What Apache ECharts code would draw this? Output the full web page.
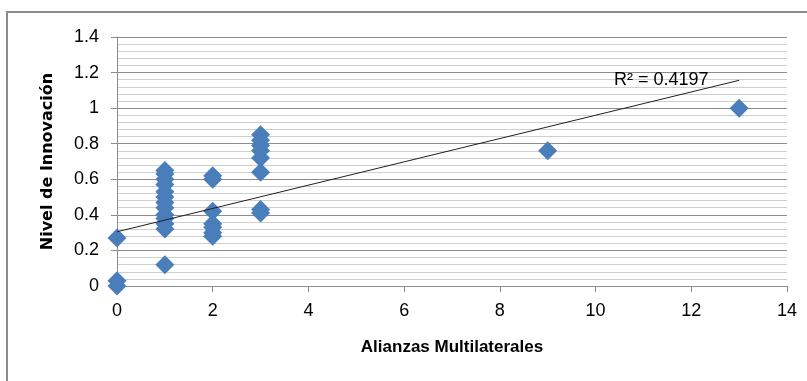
<!DOCTYPE html>
<html>
<head>
<meta charset="utf-8">
<script src="https://cdn.jsdelivr.net/npm/echarts@6/dist/echarts.min.js"></script>
<style>
  html, body { margin: 0; padding: 0; background: #fff; }
  #chart { width: 807px; height: 381px; }
</style>
</head>
<body>
<div id="chart"></div>
<script>
// alianzas multilaterales vs nivel de innovación
const ALIANZAS = [
  0, 0, 0,
  1, 1, 1, 1, 1, 1, 1, 1, 1, 1, 1, 1, 1,
  2, 2, 2, 2, 2, 2, 2,
  3, 3, 3, 3, 3, 3, 3, 3,
  9, 13
];
const INNOVACION = [
  0, 0.03, 0.27,
  0.65, 0.63, 0.60, 0.57, 0.53, 0.50, 0.47, 0.44, 0.40, 0.38, 0.35, 0.32, 0.12,
  0.62, 0.60, 0.42, 0.35, 0.33, 0.30, 0.28,
  0.85, 0.82, 0.79, 0.76, 0.72, 0.64, 0.43, 0.41,
  0.76, 1.0
];
// tendencia lineal
const TREND_RANGE = [0, 13];
const TREND_INTERCEPT = 0.305;
const TREND_SLOPE = 0.0655;
const R2_TEXT = 'R² = 0.4197';

const points = ALIANZAS.map((x, i) => [x, INNOVACION[i]]);
const trend = TREND_RANGE.map(x => [x, TREND_INTERCEPT + TREND_SLOPE * x]);

const labelFont = { fontFamily: 'Liberation Sans', fontSize: 18, color: '#000' };

const chart = echarts.init(document.getElementById('chart'));
chart.setOption({
  animation: false,
  backgroundColor: '#fff',
  grid: { left: 117, right: 20, top: 37, bottom: 95 },
  xAxis: {
    type: 'value',
    min: 0, max: 14, interval: 2,
    name: 'Alianzas Multilaterales',
    nameLocation: 'middle',
    nameGap: 53,
    nameTextStyle: { fontFamily: 'Liberation Sans', fontWeight: 'bold', fontSize: 17, color: '#000' },
    axisLine: { lineStyle: { color: '#8c8c8c', width: 1 } },
    axisTick: { show: true, length: 6, lineStyle: { color: '#8c8c8c' } },
    axisLabel: Object.assign({ margin: 16 }, labelFont),
    splitLine: { show: false },
  },
  yAxis: {
    type: 'value',
    min: 0, max: 1.4, interval: 0.2,
    name: 'Nivel de Innovación',
    nameLocation: 'middle',
    nameGap: 61,
    nameTextStyle: { fontFamily: 'DejaVu Sans', fontWeight: 'bold', fontSize: 16, color: '#000' },
    axisLine: { show: true, lineStyle: { color: '#8c8c8c', width: 1 } },
    axisTick: { show: true, length: 6, lineStyle: { color: '#8c8c8c' } },
    axisLabel: Object.assign({ margin: 18, formatter: v => String(+v.toFixed(1)) }, labelFont),
    splitLine: { show: true, lineStyle: { color: '#8c8c8c', width: 1 } },
    minorTick: { show: false, splitNumber: 5 },
    minorSplitLine: { show: true, lineStyle: { color: '#cfcfcf', width: 1 } },
  },
  graphic: [
    {
      type: 'rect',
      shape: { x: 7, y: 12, width: 830, height: 420 },
      style: { fill: 'none', stroke: '#8c8c8c', lineWidth: 2 },
      silent: true,
    },
    {
      type: 'text',
      left: 614, top: 71,
      style: { text: R2_TEXT, fontFamily: 'Liberation Sans', fontSize: 18, fill: '#000' },
      z: 10,
    },
  ],
  series: [
    {
      type: 'scatter',
      data: points,
      symbol: 'diamond',
      symbolSize: 19,
      itemStyle: { color: '#4a7ebb', opacity: 1 },
      z: 3,
    },
    {
      type: 'line',
      data: trend,
      symbol: 'none',
      lineStyle: { color: '#202020', width: 1 },
      z: 4,
    },
  ],
});
</script>
</body>
</html>
